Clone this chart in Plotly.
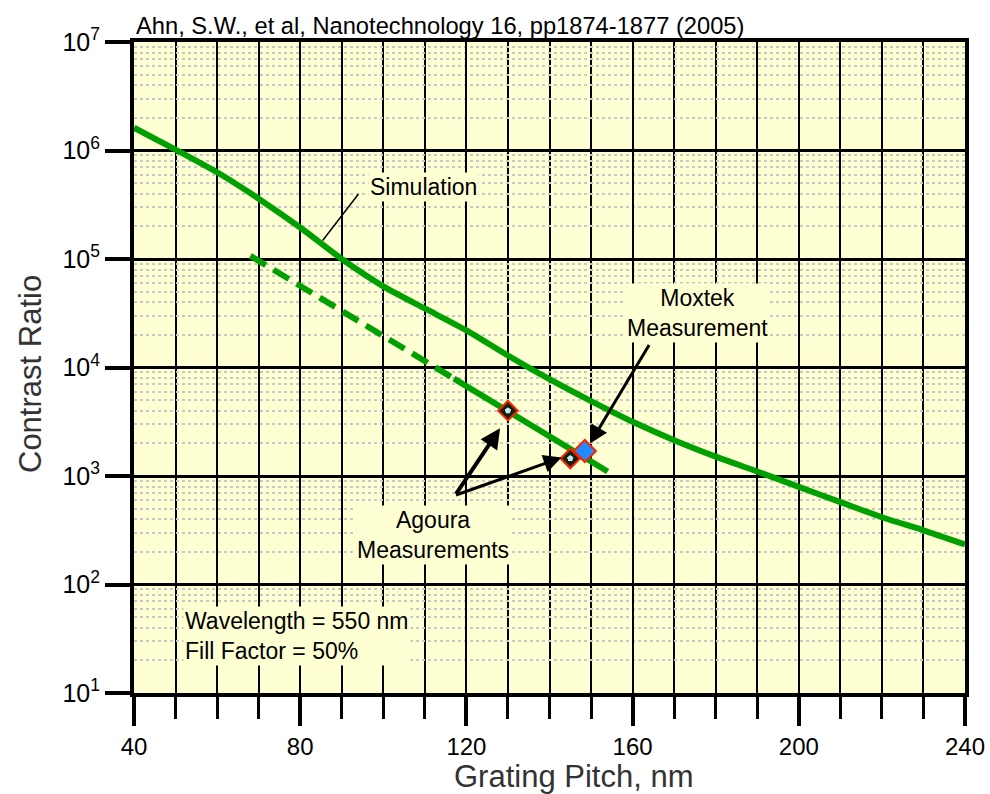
import plotly.graph_objects as go

# ---- data ----
sim_pitch = [40, 50, 60, 70, 80, 90, 100, 110, 120, 130, 140, 150, 160, 170, 180, 190, 200, 210, 220, 230, 240]
sim_cr = [1.62e6, 1.02e6, 6.3e5, 3.6e5, 1.95e5, 1.0e5, 5.6e4, 3.5e4, 2.2e4, 1.29e4, 7.8e3, 4.9e3,
          3.16e3, 2.14e3, 1.51e3, 1.1e3, 794, 575, 417, 316, 234]

fit_dash_pitch = [68, 117]
fit_dash_cr = [1.07e5, 7.9e3]
fit_solid_pitch = [117, 154]
fit_solid_cr = [7.9e3, 1.1e3]

agoura_pitch = [130, 145]
agoura_cr = [4.0e3, 1.45e3]
moxtek_pitch = [148.5]
moxtek_cr = [1.7e3]

y_tickvals = [10, 100, 1e3, 1e4, 1e5, 1e6, 1e7]
y_ticktext = ["10<sup>1</sup>", "10<sup>2</sup>", "10<sup>3</sup>", "10<sup>4</sup>",
              "10<sup>5</sup>", "10<sup>6</sup>", "10<sup>7</sup>"]
x_tickvals = [40, 80, 120, 160, 200, 240]

FONT = "Liberation Sans, Arial, sans-serif"
GREEN = "#00A000"
BG = "#FFFFD4"

fig = go.Figure()
fig.add_trace(go.Scatter(x=sim_pitch, y=sim_cr, mode="lines",
                         line=dict(color=GREEN, width=6, shape="spline", smoothing=0.6),
                         showlegend=False, hoverinfo="skip"))
fig.add_trace(go.Scatter(x=fit_dash_pitch, y=fit_dash_cr, mode="lines",
                         line=dict(color=GREEN, width=6, dash="18px,9px"),
                         showlegend=False, hoverinfo="skip"))
fig.add_trace(go.Scatter(x=fit_solid_pitch, y=fit_solid_cr, mode="lines",
                         line=dict(color=GREEN, width=6),
                         showlegend=False, hoverinfo="skip"))
fig.add_trace(go.Scatter(x=agoura_pitch, y=agoura_cr, mode="markers",
                         marker=dict(symbol="diamond", size=15, color="#102810",
                                     line=dict(color="#FF2000", width=2)),
                         showlegend=False))
fig.add_trace(go.Scatter(x=agoura_pitch, y=agoura_cr, mode="markers",
                         marker=dict(symbol="pentagon", size=8, color="#C8E6F0",
                                     line=dict(color="#000000", width=1)),
                         showlegend=False))
fig.add_trace(go.Scatter(x=moxtek_pitch, y=moxtek_cr, mode="markers",
                         marker=dict(symbol="diamond", size=17, color="#1E8CFF",
                                     line=dict(color="#FF2000", width=2)),
                         showlegend=False))

fig.update_xaxes(range=[40, 240], tickvals=x_tickvals, ticks="outside", ticklen=29, tickwidth=3.5,
                 tickcolor="black", showgrid=True, gridcolor="black", gridwidth=2,
                 showline=True, linecolor="black", linewidth=4, mirror=True, automargin=False,
                 tickfont=dict(family=FONT, size=24, color="black"), zeroline=False,
                 minor=dict(dtick=10, tick0=40, ticks="outside", ticklen=22, tickwidth=3,
                            tickcolor="black", showgrid=True, gridcolor="black", gridwidth=2))
fig.update_yaxes(type="log", range=[1, 7], tickvals=y_tickvals, ticktext=y_ticktext,
                 ticks="outside", ticklen=25, tickwidth=4, tickcolor="black", automargin=False,
                 showgrid=True, gridcolor="black", gridwidth=2.5,
                 showline=True, linecolor="black", linewidth=4, mirror=True,
                 tickfont=dict(family=FONT, size=25, color="black"), zeroline=False,
                 minor=dict(dtick="D1", showgrid=True, gridcolor="#C8C8C8", gridwidth=1.5,
                            griddash="dot", ticks=""))

ann_font = dict(family=FONT, size=23, color="black")
annotations = [
    # title
    dict(text="Ahn, S.W., et al, Nanotechnology 16, pp1874-1877 (2005)", xref="paper", yref="paper",
         x=0.0, y=1.0, xanchor="left", yanchor="bottom", yshift=1, showarrow=False,
         font=dict(family=FONT, size=23.7, color="black")),
    # axis titles
    dict(text="Grating Pitch, nm", xref="paper", yref="paper", x=0.529, y=0, yanchor="top",
         yshift=-64, showarrow=False, font=dict(family=FONT, size=31, color="#333333")),
    dict(text="Contrast Ratio", xref="paper", yref="paper", x=0, y=0.49, xanchor="center",
         xshift=-104, textangle=-90, showarrow=False, font=dict(family=FONT, size=31, color="#333333")),
    # labels
    dict(text="Simulation", x=109.6, y=5.66, showarrow=False, bgcolor=BG, font=ann_font),
    dict(text="Moxtek<br>Measurement", x=175.7, y=4.50, showarrow=False, bgcolor=BG, font=ann_font),
    dict(text="Agoura<br>Measurements", x=112.0, y=2.46, showarrow=False, bgcolor=BG, font=ann_font),
    dict(text="Wavelength = 550 nm<br>Fill Factor = 50%", x=51.8, y=1.525, xanchor="left",
         align="left", showarrow=False, bgcolor=BG, font=ann_font),
    # leader line / arrows
    dict(text="", x=85.4, y=5.171, ax=37, ay=-48, showarrow=True, arrowhead=0,
         arrowwidth=1.5, arrowcolor="black"),
    dict(text="", x=149.75, y=3.299, ax=60, ay=-100, showarrow=True, arrowhead=2,
         arrowsize=1.2, arrowwidth=3, arrowcolor="black"),
    dict(text="", x=128.1, y=3.44, ax=-45, ay=67, showarrow=True, arrowhead=2,
         arrowsize=1.0, arrowwidth=4, arrowcolor="black"),
    dict(text="", x=142.9, y=3.17, ax=-107, ay=38, showarrow=True, arrowhead=2,
         arrowsize=1.2, arrowwidth=3, arrowcolor="black"),
]

fig.update_layout(width=990, height=794, margin=dict(l=134, r=25, t=42, b=101),
                  plot_bgcolor=BG, paper_bgcolor="white", annotations=annotations,
                  font=dict(family=FONT, color="black"), showlegend=False)

fig.write_html("out.html")
